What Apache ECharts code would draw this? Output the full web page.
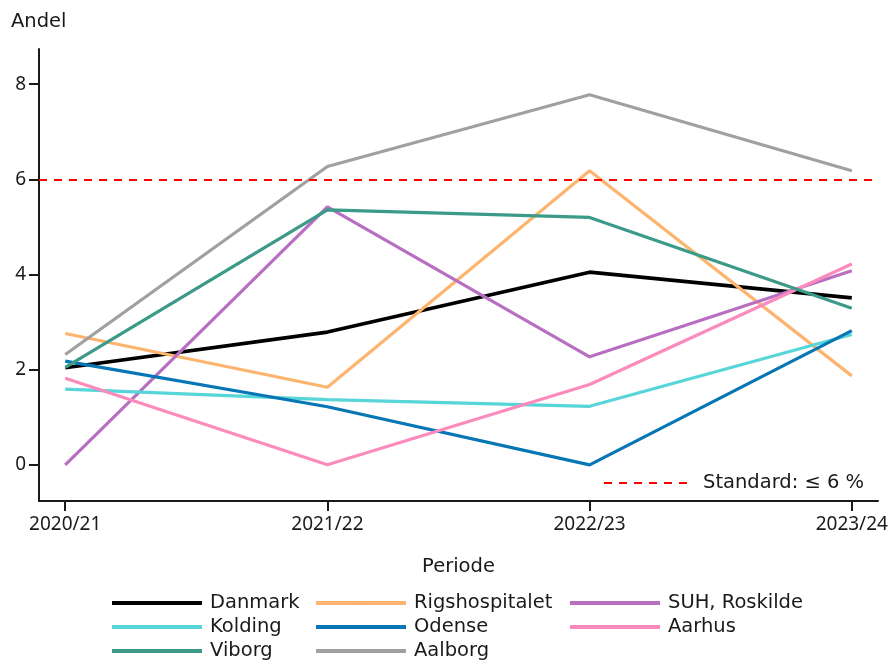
<!DOCTYPE html>
<html>
<head>
<meta charset="utf-8">
<script src="https://cdn.jsdelivr.net/npm/echarts@6/dist/echarts.min.js"></script>
<style>
  html, body { margin: 0; padding: 0; background: #fff; }
  #chart { width: 893px; height: 662px; }
</style>
</head>
<body>
<div id="chart"></div>
<script>
var periods = ['2020/21', '2021/22', '2022/23', '2023/24'];
var yTicks = [0, 2, 4, 6, 8];
var standardValue = 6;

var danmark = [2.04, 2.79, 4.05, 3.51];
var rigshospitalet = [2.76, 1.63, 6.18, 1.87];
var suhRoskilde = [0.0, 5.42, 2.27, 4.08];
var kolding = [1.59, 1.37, 1.23, 2.74];
var odense = [2.18, 1.22, 0.0, 2.82];
var aarhus = [1.82, 0.0, 1.69, 4.22];
var viborg = [2.05, 5.36, 5.2, 3.29];
var aalborg = [2.32, 6.27, 7.78, 6.18];

var names = ['Danmark', 'Rigshospitalet', 'SUH, Roskilde', 'Kolding', 'Odense', 'Aarhus', 'Viborg', 'Aalborg'];
var values = [danmark, rigshospitalet, suhRoskilde, kolding, odense, aarhus, viborg, aalborg];
var colors = ['#000000', '#fdb46e', '#b86fc2', '#58d5d8', '#0676b4', '#fb8bbc', '#3b9a88', '#a0a0a0'];

var chart = echarts.init(document.getElementById('chart'));

var textFont = 'DejaVu Sans';
var tickFont = 'Noto Sans';

function pairs(arr) {
    return arr.map(function (v, i) { return [i, v]; });
}

var series = names.map(function (n, k) {
    return {
        name: n,
        type: 'line',
        data: pairs(values[k]),
        symbol: 'none',
        color: colors[k],
        lineStyle: { width: n == 'Danmark' ? 3.6 : 3.2, color: colors[k] },
        z: 3,
        silent: true,
        animation: false
    };
});

series.push({
    name: 'Standard: \u2264 6 %',
    type: 'line',
    data: [],
    symbol: 'none',
    color: '#ff0000',
    lineStyle: { width: 2, type: [8, 7], color: '#ff0000' },
    markLine: {
        silent: true,
        symbol: 'none',
        label: { show: false },
        lineStyle: { width: 2, type: [8, 7], color: '#ff0000' },
        data: [{ yAxis: standardValue }]
    },
    z: 2,
    animation: false
});

function legendCol(left, data) {
    return {
        data: data,
        orient: 'vertical',
        left: left,
        top: 593,
        padding: 0,
        itemGap: 4,
        itemWidth: 90,
        itemHeight: 4,
        selectedMode: false,
        lineStyle: { width: 4 },
        textStyle: { fontFamily: textFont, fontSize: 19.5, color: '#1a1a1a', lineHeight: 20, padding: [0, 0, 0, 3] }
    };
}

var option = {
    backgroundColor: '#ffffff',
    animation: false,
    title: {
        text: 'Andel',
        left: 11,
        top: 12,
        padding: 0,
        textStyle: { fontFamily: textFont, fontSize: 19.5, fontWeight: 'normal', color: '#1a1a1a' }
    },
    grid: { left: 39, right: 15, top: 49, bottom: 161 },
    legend: [
        legendCol(110, ['Danmark', 'Kolding', 'Viborg']),
        legendCol(314, ['Rigshospitalet', 'Odense', 'Aalborg']),
        legendCol(568, ['SUH, Roskilde', 'Aarhus']),
        {
            data: ['Standard: \u2264 6 %'],
            left: 603,
            top: 473,
            padding: 0,
            itemWidth: 86,
            itemHeight: 4,
            selectedMode: false,
            itemStyle: { color: 'transparent', borderWidth: 0 },
            lineStyle: { width: 2 },
            textStyle: { fontFamily: textFont, fontSize: 19.5, color: '#1a1a1a', lineHeight: 20, padding: [0, 0, 0, 8] }
        }
    ],
    xAxis: {
        type: 'value',
        min: -0.1,
        max: 3.1,
        name: 'Periode',
        nameLocation: 'middle',
        nameGap: 56,
        nameTextStyle: { fontFamily: textFont, fontSize: 19.5, color: '#1a1a1a' },
        splitLine: { show: false },
        axisLine: { show: true, onZero: false, lineStyle: { color: '#1a1a1a', width: 2 } },
        axisTick: { show: true, length: 10, lineStyle: { color: '#1a1a1a', width: 2 }, customValues: [0, 1, 2, 3] },
        axisLabel: {
            customValues: [0, 1, 2, 3],
            margin: 14,
            fontFamily: tickFont,
            fontSize: 19,
            color: '#1a1a1a',
            formatter: function (v) { return periods[Math.round(v)]; }
        }
    },
    yAxis: {
        type: 'value',
        min: -0.76,
        max: 8.74,
        splitLine: { show: false },
        axisLine: { show: true, onZero: false, lineStyle: { color: '#1a1a1a', width: 2 } },
        axisTick: { show: true, length: 10, lineStyle: { color: '#1a1a1a', width: 2 }, customValues: yTicks },
        axisLabel: {
            customValues: yTicks,
            margin: 13,
            fontFamily: tickFont,
            fontSize: 19,
            color: '#1a1a1a'
        }
    },
    series: series
};

chart.setOption(option);
</script>
</body>
</html>
